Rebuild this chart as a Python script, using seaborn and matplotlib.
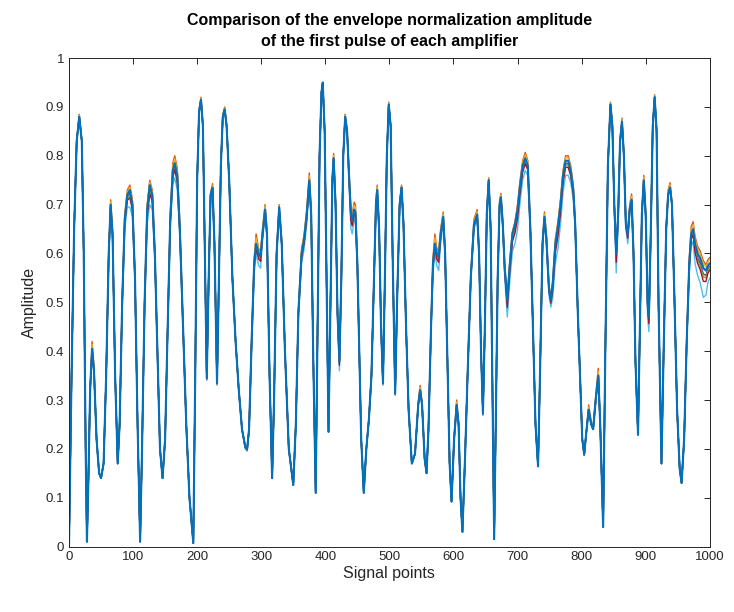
import numpy as np
import pandas as pd
import matplotlib
matplotlib.use("Agg")
import matplotlib.pyplot as plt
import seaborn as sns

# 信号点位置（读图得到的关键点）
sig_x = [0, 4, 8, 12, 16, 20, 23, 26, 28, 30, 33, 36, 39, 43, 47, 50, 54, 58, 62, 65,
         68, 72, 76, 79, 83, 87, 91, 95, 99, 103, 107, 111, 114, 118, 122, 126, 130, 134, 138, 142,
         146, 150, 154, 158, 162, 165, 169, 173, 178, 183, 188, 194, 197, 200, 203, 206, 209, 212, 215, 218,
         221, 224, 227, 231, 234, 237, 240, 243, 246, 250, 255, 260, 265, 270, 275, 278, 281, 285, 289, 292,
         296, 299, 302, 306, 309, 313, 317, 320, 324, 328, 332, 337, 343, 350, 354, 358, 363, 367, 371, 375,
         378, 381, 385, 388, 391, 394, 396, 399, 402, 405, 408, 411, 413, 416, 419, 422, 425, 428, 431, 434,
         437, 440, 442, 445, 447, 450, 453, 456, 460, 464, 468, 472, 476, 479, 481, 484, 487, 490, 493, 496,
         499, 502, 505, 509, 512, 516, 519, 522, 526, 530, 535, 540, 545, 548, 551, 555, 558, 561, 565, 568,
         571, 574, 577, 580, 584, 587, 591, 594, 597, 601, 605, 608, 611, 614, 618, 622, 627, 632, 637, 640,
         643, 646, 649, 652, 655, 658, 661, 663.5, 666, 669, 672, 674, 677, 680, 684, 688, 692, 696, 700, 704,
         708, 712, 716, 720, 724, 728, 732, 735, 739, 742, 745, 749, 752, 755, 759, 763, 767, 771, 775, 779,
         783, 787, 790, 794, 798, 801, 804, 807, 811, 815, 818, 822, 826, 829, 833.6, 837, 841, 845, 848, 851,
         854, 857, 860, 863, 866, 869, 872, 875, 878, 881, 884, 888, 891, 894, 897, 900, 903, 905, 908, 911,
         914, 917, 920, 924.6, 928, 932, 935, 938, 941, 945, 949, 953, 956, 960, 964, 968, 971, 974, 977, 981,
         985, 990, 994, 997, 1000]

# 基准幅度（最上层蓝线）
amp_base = [0.0, 0.35, 0.65, 0.83, 0.88, 0.83, 0.6, 0.2, 0.01, 0.12, 0.32, 0.405, 0.36, 0.22, 0.15, 0.14, 0.17, 0.35, 0.6, 0.70,
            0.64, 0.35, 0.17, 0.25, 0.5, 0.67, 0.72, 0.73, 0.70, 0.55, 0.25, 0.01, 0.2, 0.5, 0.69, 0.74, 0.72, 0.6, 0.4, 0.2,
            0.14, 0.22, 0.45, 0.67, 0.77, 0.785, 0.76, 0.65, 0.45, 0.25, 0.1, 0.007, 0.35, 0.75, 0.89, 0.915, 0.86, 0.6, 0.345, 0.55,
            0.72, 0.735, 0.62, 0.335, 0.55, 0.78, 0.88, 0.895, 0.86, 0.75, 0.55, 0.42, 0.32, 0.24, 0.205, 0.20, 0.24, 0.42, 0.58, 0.62,
            0.60, 0.595, 0.64, 0.69, 0.64, 0.35, 0.14, 0.3, 0.6, 0.695, 0.62, 0.4, 0.2, 0.126, 0.25, 0.48, 0.60, 0.63, 0.68, 0.75,
            0.68, 0.4, 0.11, 0.45, 0.8, 0.93, 0.95, 0.85, 0.55, 0.235, 0.5, 0.75, 0.795, 0.70, 0.48, 0.38, 0.55, 0.80, 0.88, 0.85,
            0.76, 0.68, 0.67, 0.69, 0.685, 0.58, 0.4, 0.22, 0.11, 0.2, 0.26, 0.35, 0.55, 0.70, 0.73, 0.65, 0.45, 0.335, 0.55, 0.80,
            0.905, 0.86, 0.6, 0.314, 0.5, 0.70, 0.735, 0.66, 0.45, 0.28, 0.17, 0.19, 0.29, 0.32, 0.29, 0.18, 0.15, 0.24, 0.45, 0.58,
            0.62, 0.60, 0.595, 0.64, 0.675, 0.6, 0.35, 0.17, 0.092, 0.22, 0.29, 0.25, 0.1, 0.03, 0.18, 0.35, 0.55, 0.66, 0.68, 0.6,
            0.4, 0.273, 0.45, 0.68, 0.75, 0.65, 0.3, 0.015, 0.25, 0.55, 0.70, 0.715, 0.66, 0.57, 0.505, 0.58, 0.64, 0.66, 0.69, 0.74,
            0.78, 0.795, 0.78, 0.65, 0.45, 0.25, 0.164, 0.35, 0.62, 0.675, 0.63, 0.53, 0.505, 0.54, 0.62, 0.655, 0.70, 0.76, 0.79, 0.79,
            0.77, 0.73, 0.66, 0.48, 0.33, 0.22, 0.188, 0.23, 0.28, 0.25, 0.24, 0.30, 0.35, 0.25, 0.04, 0.4, 0.78, 0.905, 0.86, 0.7,
            0.60, 0.68, 0.83, 0.87, 0.80, 0.66, 0.64, 0.69, 0.71, 0.6, 0.38, 0.229, 0.45, 0.68, 0.75, 0.68, 0.50, 0.47, 0.65, 0.86,
            0.92, 0.85, 0.5, 0.17, 0.4, 0.65, 0.72, 0.735, 0.70, 0.5, 0.28, 0.16, 0.13, 0.22, 0.42, 0.58, 0.64, 0.65, 0.62, 0.60,
            0.59, 0.57, 0.565, 0.575, 0.58]

# 各放大器之间的最大偏差（向上 / 向下），读图估计
dev_up = [0, 0, 0, 0, 0.005, 0, 0, 0, 0, 0, 0.005, 0.015, 0.01, 0, 0, 0, 0, 0, 0.005, 0.01,
          0.005, 0, 0, 0, 0.005, 0.01, 0.01, 0.01, 0.01, 0.005, 0, 0, 0, 0.005, 0.01, 0.01, 0.01, 0.005, 0, 0,
          0, 0, 0.005, 0.01, 0.015, 0.015, 0.015, 0.01, 0.005, 0, 0, 0, 0, 0, 0.005, 0.005, 0.005, 0, 0, 0,
          0.005, 0.008, 0.005, 0, 0, 0, 0.005, 0.005, 0.005, 0, 0, 0, 0, 0, 0, 0, 0, 0.005, 0.01, 0.02,
          0.01, 0.01, 0.01, 0.01, 0.01, 0, 0, 0, 0.005, 0.005, 0.005, 0, 0, 0, 0, 0.005, 0.01, 0.01, 0.01, 0.015,
          0.01, 0, 0, 0, 0, 0, 0, 0, 0, 0, 0, 0.005, 0.01, 0.01, 0.005, 0, 0.005, 0.005, 0.005, 0.005,
          0.01, 0.01, 0.01, 0.015, 0.015, 0.01, 0, 0, 0, 0, 0, 0, 0.005, 0.01, 0.01, 0.005, 0, 0, 0, 0,
          0.005, 0.005, 0, 0, 0, 0.005, 0.005, 0.005, 0, 0, 0, 0, 0.005, 0.01, 0.005, 0, 0, 0, 0.005, 0.01,
          0.02, 0.01, 0.01, 0.01, 0.01, 0.005, 0, 0, 0, 0.005, 0.01, 0.005, 0, 0, 0, 0, 0.005, 0.01, 0.01, 0.005,
          0, 0, 0, 0.005, 0.005, 0.005, 0, 0, 0, 0.005, 0.008, 0.008, 0.005, 0.005, 0.005, 0.005, 0.005, 0.005, 0.01, 0.01,
          0.01, 0.012, 0.01, 0.005, 0, 0, 0, 0, 0.005, 0.01, 0.01, 0.005, 0.005, 0.005, 0.01, 0.01, 0.01, 0.01, 0.01, 0.01,
          0.01, 0.01, 0.005, 0, 0, 0, 0, 0, 0.01, 0.005, 0.005, 0.01, 0.015, 0.005, 0, 0, 0, 0.005, 0.005, 0,
          0.005, 0.005, 0.005, 0.007, 0.005, 0.005, 0.005, 0.01, 0.012, 0.005, 0, 0, 0, 0.005, 0.01, 0.005, 0.005, 0.005, 0, 0.005,
          0.005, 0.005, 0, 0, 0, 0.005, 0.01, 0.01, 0.005, 0, 0, 0, 0, 0, 0.005, 0.01, 0.015, 0.015, 0.015, 0.015,
          0.015, 0.015, 0.012, 0.012, 0.012]

dev_dn = [0, 0, 0, 0, 0, 0, 0, 0, 0, 0, 0, 0.005, 0.005, 0, 0, 0, 0, 0, 0.005, 0.012,
          0.01, 0, 0, 0, 0.01, 0.02, 0.025, 0.035, 0.025, 0.01, 0, 0, 0, 0.01, 0.03, 0.04, 0.03, 0.015, 0.005, 0,
          0, 0, 0.01, 0.02, 0.03, 0.03, 0.03, 0.02, 0.01, 0, 0, 0, 0, 0, 0, 0, 0, 0.005, 0.005, 0.005,
          0.005, 0.005, 0.005, 0.005, 0, 0, 0, 0, 0, 0, 0, 0, 0, 0, 0.005, 0.005, 0.005, 0.01, 0.02, 0.02,
          0.025, 0.025, 0.015, 0.01, 0.01, 0, 0, 0, 0.005, 0.01, 0.005, 0, 0, 0, 0, 0.01, 0.02, 0.02, 0.02, 0.01,
          0.01, 0, 0, 0, 0, 0, 0, 0, 0, 0, 0, 0, 0, 0, 0.01, 0.02, 0.01, 0, 0, 0,
          0.015, 0.03, 0.03, 0.02, 0.02, 0.01, 0, 0, 0, 0, 0, 0, 0.005, 0.01, 0.01, 0.005, 0.005, 0.005, 0, 0,
          0, 0, 0.005, 0.005, 0, 0, 0, 0, 0, 0, 0, 0, 0, 0, 0, 0, 0, 0, 0.01, 0.02,
          0.02, 0.025, 0.03, 0.02, 0.01, 0.005, 0, 0, 0, 0, 0, 0, 0, 0, 0, 0, 0.005, 0.01, 0.01, 0.005,
          0, 0.005, 0, 0, 0, 0, 0, 0, 0, 0, 0.005, 0.005, 0.01, 0.02, 0.035, 0.035, 0.035, 0.04, 0.04, 0.035,
          0.03, 0.025, 0.02, 0.01, 0, 0, 0, 0, 0.005, 0.01, 0.01, 0.015, 0.015, 0.03, 0.04, 0.045, 0.04, 0.035, 0.03, 0.03,
          0.025, 0.02, 0.01, 0, 0, 0, 0, 0, 0, 0, 0, 0, 0, 0, 0, 0, 0, 0, 0, 0.01,
          0.04, 0.02, 0.005, 0, 0.005, 0.01, 0.02, 0.01, 0.005, 0.005, 0, 0, 0, 0, 0.005, 0.01, 0.03, 0.03, 0.01, 0,
          0, 0, 0, 0, 0, 0, 0, 0, 0, 0, 0, 0, 0, 0, 0.005, 0.02, 0.025, 0.025, 0.04, 0.045,
          0.05, 0.06, 0.05, 0.035, 0.03]

# 各放大器在偏差范围内的相对位置（+1 最高, -1 最低），绘制顺序同 MATLAB
amp_names = ['Amp 1', 'Amp 2', 'Amp 3', 'Amp 4', 'Amp 5', 'Amp 6', 'Amp 7', 'Amp 8']
amp_pos = [0.0, 1.0, 0.6, -0.2, -0.3, -1.0, -0.45, 0.0]
amp_colors = ['#0072BD', '#D95319', '#EDB120', '#7E2F8E', '#77AC30', '#4DBEEE', '#A2142F', '#0072BD']

x_ticks = [0, 100, 200, 300, 400, 500, 600, 700, 800, 900, 1000]
y_ticks = [0, 0.1, 0.2, 0.3, 0.4, 0.5, 0.6, 0.7, 0.8, 0.9, 1.0]
y_tick_labels = ['0', '0.1', '0.2', '0.3', '0.4', '0.5', '0.6', '0.7', '0.8', '0.9', '1']

sns.set_style('white')
plt.rcParams['font.family'] = ['Liberation Sans', 'DejaVu Sans']
plt.rcParams['xtick.direction'] = 'in'
plt.rcParams['ytick.direction'] = 'in'

base = np.array(amp_base)
up = np.array(dev_up)
dn = np.array(dev_dn)

# 组装长表给 seaborn
frames = []
for name, p in zip(amp_names, amp_pos):
    vals = base + (p * up if p > 0 else p * dn)
    frames.append(pd.DataFrame({'x': sig_x, 'y': vals, 'amp': name}))
df = pd.concat(frames, ignore_index=True)

fig = plt.figure(figsize=(7.34, 6.12), dpi=100)
ax = fig.add_axes([0.094, 0.107, 0.873, 0.798])

sns.lineplot(data=df, x='x', y='y', hue='amp', hue_order=amp_names,
             palette=amp_colors, estimator=None, sort=False,
             linewidth=1.0, legend=False, ax=ax)
# 最上层的蓝线稍粗一点，盖住下面的线
ax.lines[-1].set_linewidth(1.5)
ax.lines[-1].set_solid_joinstyle('round')

ax.set_xlim(0, 1000)
ax.set_ylim(0, 1)
ax.set_xticks(x_ticks)
ax.set_xticklabels([str(t) for t in x_ticks])
ax.set_yticks(y_ticks)
ax.set_yticklabels(y_tick_labels)
ax.tick_params(axis='both', labelsize=9.5, colors='#262626', length=4, width=0.7,
               top=True, right=True, labeltop=False, labelright=False)
for s in ax.spines.values():
    s.set_color('#262626')
    s.set_linewidth(0.7)

ax.set_xlabel('Signal points', fontsize=11.5, color='#262626', labelpad=2)
ax.set_ylabel('Amplitude', fontsize=11.5, color='#262626', labelpad=6)
ax.set_title('Comparison of the envelope normalization amplitude\nof the first pulse of each amplifier',
             fontsize=11.5, fontweight='bold', color='black', linespacing=1.45, pad=9)

plt.savefig('out.png', dpi=100)
